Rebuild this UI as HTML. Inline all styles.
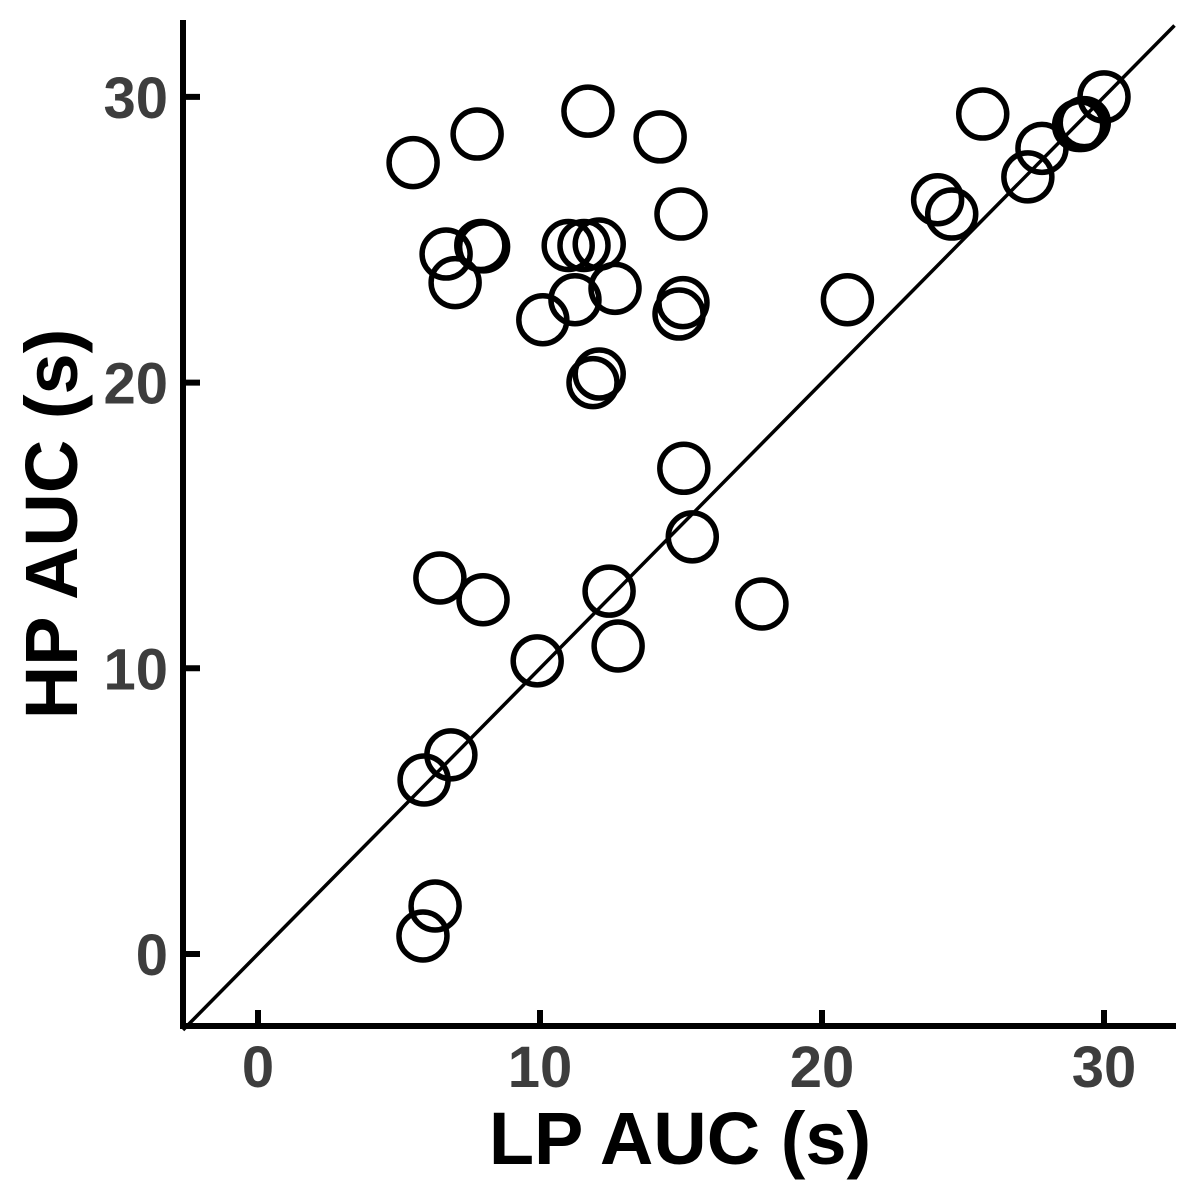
<!DOCTYPE html>
<html><head><meta charset="utf-8"><style>
html,body{margin:0;padding:0;background:#fff;}
svg{display:block;font-family:"Liberation Sans",Arial,sans-serif;}
</style></head><body>
<svg id="chart" width="1200" height="1200" viewBox="0 0 1200 1200" xmlns="http://www.w3.org/2000/svg"></svg>
<script>
const xTicks=[0,10,20,30];
const yTicks=[0,10,20,30];
const lpAuc=[5.5,7.77,11.7,14.26,25.7,30.0,29.1,29.2,29.3,27.8,27.3,24.1,24.6,15.0,6.67,7.9,8.0,6.99,11.0,11.56,12.1,12.66,11.24,10.1,15.07,14.93,20.9,12.1,11.88,15.1,15.4,6.45,7.98,12.45,17.87,12.77,9.9,6.84,5.89,6.28,5.85];
const hpAuc=[27.7,28.7,29.5,28.6,29.4,30.0,29.0,29.0,29.1,28.2,27.2,26.4,25.9,25.9,24.5,24.8,24.75,23.5,24.8,24.8,24.85,23.3,22.9,22.2,22.8,22.4,22.9,20.3,20.0,17.0,14.6,13.16,12.4,12.7,12.25,10.78,10.26,6.97,6.09,1.68,0.63];
const NS="http://www.w3.org/2000/svg";
const svg=document.getElementById('chart');
const X=v=>258+v*28.2;
const Y=v=>954-v*28.57;
function mk(tag,attrs,parent){const e=document.createElementNS(NS,tag);for(const k in attrs)e.setAttribute(k,attrs[k]);(parent||svg).appendChild(e);return e;}
const dl=mk('line',{x1:X(-2.66),y1:Y(-2.66),x2:X(32.5),y2:Y(32.5),stroke:'#000','stroke-width':3.5});


const g=mk('g',{});


for(let i=0;i<lpAuc.length;i++){
  const c=mk('circle',{cx:X(lpAuc[i]),cy:Y(hpAuc[i]),r:24,fill:'none',stroke:'#000','stroke-width':5.5},g);
  
  
}
const ya=mk('line',{x1:183,y1:20,x2:183,y2:1029,stroke:'#000','stroke-width':6});


const xa=mk('line',{x1:180,y1:1026,x2:1176,y2:1026,stroke:'#000','stroke-width':6});


xTicks.forEach(t=>{
  const tk=mk('line',{x1:X(t),y1:1026,x2:X(t),y2:1010,stroke:'#000','stroke-width':6});
  
  
  const tx=mk('text',{x:X(t),y:1087,'text-anchor':'middle','font-size':58,'font-weight':'bold',fill:'#3d3d3d'});
  tx.textContent=t;
  
  
});
yTicks.forEach(t=>{
  const tk=mk('line',{x1:183,y1:Y(t),x2:200,y2:Y(t),stroke:'#000','stroke-width':6});
  
  
  const tx=mk('text',{x:168,y:Y(t)+21,'text-anchor':'end','font-size':58,'font-weight':'bold',fill:'#3d3d3d'});
  tx.textContent=t;
  
  
});
const xt=mk('text',{x:680,y:1164,'text-anchor':'middle','font-size':74,'font-weight':'bold',fill:'#000'});
xt.textContent='LP AUC (s)';


const yt=mk('text',{x:0,y:0,'text-anchor':'middle','font-size':74,'font-weight':'bold',fill:'#000',transform:'translate(77,524) rotate(-90)'});
yt.textContent='HP AUC (s)';


</script>
</body></html>
